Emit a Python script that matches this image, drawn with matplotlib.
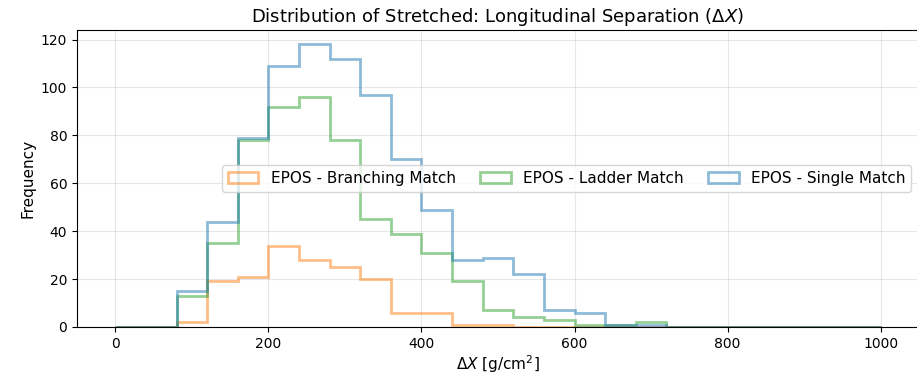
import numpy as np
import matplotlib
matplotlib.use("Agg")
import matplotlib.pyplot as plt

# bin edges for Delta X [g/cm^2]
bin_edges = np.arange(0, 1001, 40)

# counts per 40 g/cm^2 bin (25 bins, 0..1000)
branching_counts = [0, 0, 2, 19, 21, 34, 28, 25, 20, 6, 6, 1, 1, 0, 0, 0, 0, 0,
                    0, 0, 0, 0, 0, 0, 0]
ladder_counts = [0, 0, 13, 35, 78, 92, 96, 78, 45, 39, 31, 19, 7, 4, 3, 1, 1, 2,
                 0, 0, 0, 0, 0, 0, 0]
single_counts = [0, 0, 15, 44, 79, 109, 118, 112, 97, 70, 49, 28, 29, 22, 7, 6, 1, 1,
                 0, 0, 0, 0, 0, 0, 0]

labels = ["EPOS - Branching Match", "EPOS - Ladder Match", "EPOS - Single Match"]
colors = ["C1", "C2", "C0"]

centers = 0.5 * (bin_edges[:-1] + bin_edges[1:])

fig = plt.figure(figsize=(9.17, 3.74), dpi=100)
ax = fig.add_axes([77 / 917, 47 / 374, 842 / 917, 297 / 374])

for counts, label, color in zip([branching_counts, ladder_counts, single_counts], labels, colors):
    ax.hist(centers, bins=bin_edges, weights=counts, histtype="step",
            linewidth=2, alpha=0.5, color=color, label=label)

ax.set_xlim(-50, 1050)
ax.set_ylim(0, 124)
ax.set_title(r"Distribution of Stretched: Longitudinal Separation ($\Delta X$)", fontsize=13)
ax.set_xlabel(r"$\Delta X$ [g/cm$^2$]", fontsize=11, labelpad=2)
ax.set_ylabel("Frequency", fontsize=11)
ax.tick_params(labelsize=10)
ax.grid(True, alpha=0.3)
ax.legend(loc="center right", ncol=3, fontsize=11, columnspacing=1.6)

fig.savefig("out.png", dpi=100)
